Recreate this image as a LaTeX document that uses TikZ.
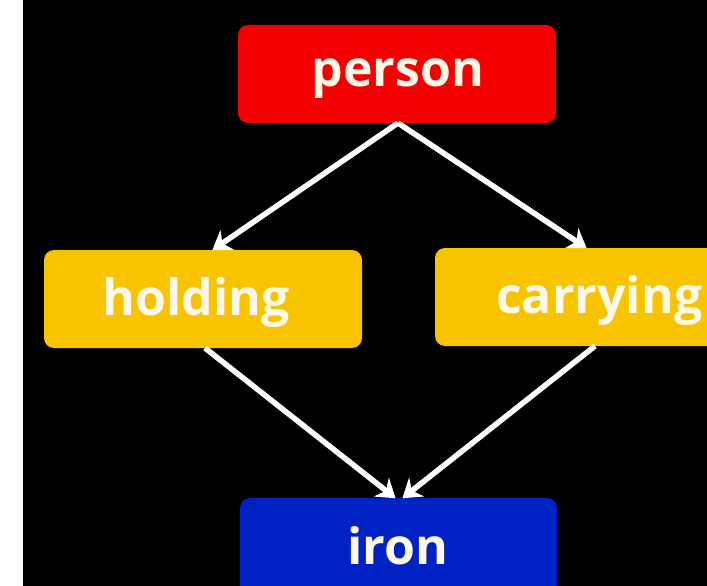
\documentclass[tikz,border=0pt]{standalone}
\usepackage{fontspec}
\setmainfont{Open Sans}
\usetikzlibrary{arrows.meta}
\definecolor{cred}{HTML}{F50000}
\definecolor{cyel}{HTML}{F8C400}
\definecolor{cblue}{HTML}{0022C4}
\definecolor{ctext}{HTML}{FFF8E8}
\begin{document}
\begin{tikzpicture}[x=1pt,y=-1pt,
  box/.style={inner sep=0pt, anchor=base, text=ctext, font=\fontsize{50}{50}\selectfont\bfseries},
  link/.style={draw=white, line width=5.5pt, -{Stealth[length=18pt,width=24pt]}, shorten >=-2pt}]
\useasboundingbox (0,0) rectangle (707,586);
\fill[white] (0,0) rectangle (23,586);
\fill[black] (23,0) rectangle (707,586);
\begin{scope}
\clip (23,0) rectangle (707,586);
\fill[cred, rounded corners=10pt] (238,25) rectangle (556,123);
\fill[cyel, rounded corners=10pt] (44,250) rectangle (362,348);
\fill[cyel, rounded corners=10pt] (435,248) rectangle (760,346);
\fill[cblue, rounded corners=10pt] (240,498) rectangle (557,620);
\node[box] (person) at (398,86) {person};
\node[box] (holding) at (196,315) {holding};
\node[box, anchor=base west] (carrying) at (496,313) {carrying};
\node[box] (iron) at (398,564) {iron};
\end{scope}
\coordinate (pb) at (398,123);
\coordinate (ht) at (214,249);
\coordinate (ct) at (585,247);
\coordinate (hb) at (205,348);
\coordinate (cb) at (595,346);
\coordinate (it1) at (394,497);
\coordinate (it2) at (404,497);
\draw[link] (pb) -- (ht);
\draw[link] (pb) -- (ct);
\draw[link] (hb) -- (it1);
\draw[link] (cb) -- (it2);
\end{tikzpicture}
\end{document}
